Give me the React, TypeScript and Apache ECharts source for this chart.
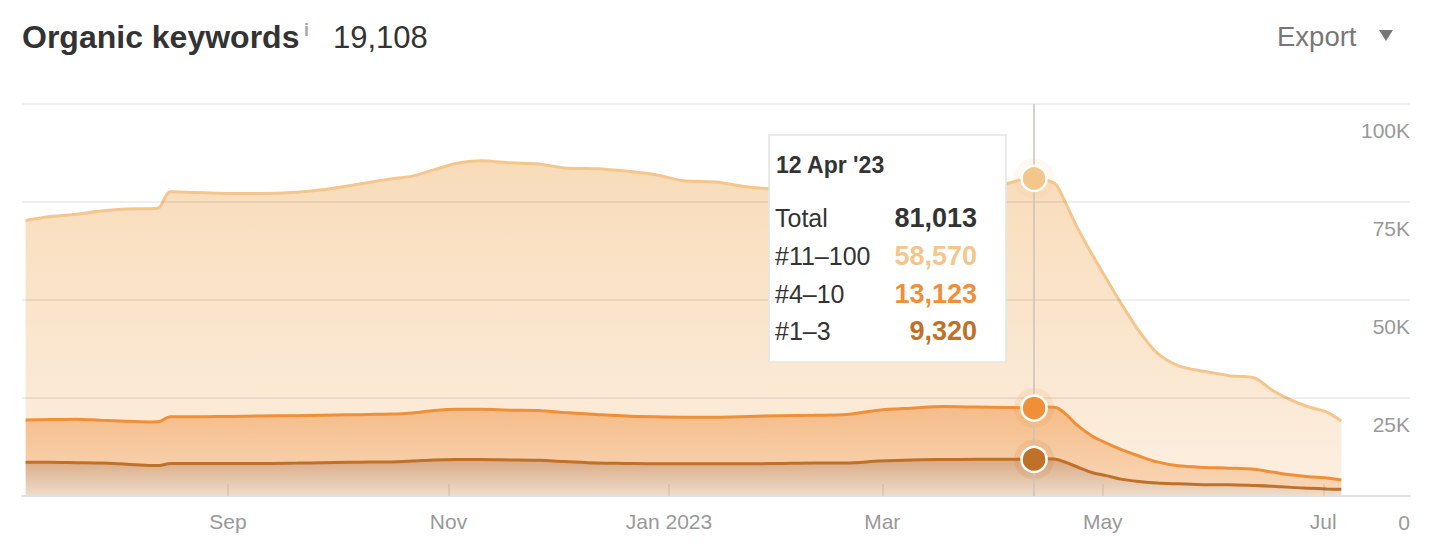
import React, { useEffect, useRef } from "react";
import * as echarts from "echarts";

// ---------- data ----------
const dates = [
  "2022-07-07", "2022-07-14", "2022-07-21", "2022-07-28", "2022-08-04", "2022-08-11", "2022-08-13",
  "2022-08-16", "2022-08-23", "2022-09-01", "2022-09-10", "2022-09-20", "2022-09-27", "2022-10-04",
  "2022-10-10", "2022-10-16", "2022-10-22", "2022-10-28", "2022-11-03", "2022-11-10", "2022-11-18",
  "2022-11-26", "2022-12-03", "2022-12-12", "2022-12-20", "2022-12-28", "2023-01-05", "2023-01-14",
  "2023-01-23", "2023-02-01", "2023-02-10", "2023-02-19", "2023-02-28", "2023-03-09", "2023-03-18",
  "2023-03-27", "2023-04-04", "2023-04-08", "2023-04-12", "2023-04-15", "2023-04-18", "2023-04-21",
  "2023-04-24", "2023-04-28", "2023-05-02", "2023-05-06", "2023-05-11", "2023-05-16", "2023-05-22",
  "2023-05-29", "2023-06-05", "2023-06-12", "2023-06-17", "2023-06-22", "2023-06-27", "2023-07-02",
  "2023-07-06",
];

const pos1to3 = [
  8600, 8600, 8500, 8400, 8100, 7800, 7800, 8300, 8300, 8300, 8300, 8400, 8500, 8600, 8700, 8700,
  8900, 9200, 9300, 9300, 9200, 9100, 8800, 8400, 8300, 8200, 8200, 8200, 8200, 8300, 8400, 8400,
  8900, 9200, 9300, 9350, 9350, 9350, 9320, 9500, 9400, 8500, 7400, 6000, 5200, 4300, 3700, 3300,
  3100, 2900, 2900, 2700, 2500, 2200, 2000, 1800, 1700,
];

const pos4to10 = [
  10800, 10900, 11100, 10900, 11000, 11100, 11200, 11900, 11900, 12000, 12100, 12100, 12100, 12100,
  12100, 12200, 12300, 12600, 12800, 12800, 12700, 12700, 12500, 12400, 12100, 12000, 11900, 11900,
  12100, 12200, 12200, 12400, 13000, 13200, 13500, 13350, 13250, 13150, 13123, 13200, 13200, 12200,
  10600, 9300, 8300, 7600, 6500, 5400, 4600, 4400, 4200, 4100, 3600, 3200, 2900, 2800, 2400,
];

const pos11to100 = [
  50900, 51800, 52300, 53400, 54100, 54400, 54600, 57400, 57200, 56900, 56800, 57000, 57500, 58400,
  59200, 60000, 60400, 61400, 62700, 63400, 63100, 62900, 62400, 62700, 62500, 61800, 60300, 60000,
  58500, 57700, 57500, 57300, 56700, 56400, 56300, 56400, 57000, 58100, 58570, 57900, 56900, 53500,
  50400, 46400, 41900, 37300, 31900, 27800, 25500, 24500, 23600, 23300, 20800, 19100, 17800, 16800,
  15008,
];

const seriesNames = ["#1–3", "#4–10", "#11–100"];
const tickDates = ["2022-09-01", "2022-11-01", "2023-01-01", "2023-03-01", "2023-05-01", "2023-07-01"];
const tickLabels = ["Sep", "Nov", "Jan 2023", "Mar", "May", "Jul"];
const yTicks = [0, 25000, 50000, 75000, 100000];
const yTickLabels = ["0", "25K", "50K", "75K", "100K"];
const axisStart = "2022-07-06";
const axisEnd = "2023-07-25";
const focusDate = "2023-04-12";
const focusLabel = "12 Apr '23";
const titleText = "Organic keywords";

// ---------- helpers ----------
const ts = (s: string) => {
  const [y, m, d] = s.split("-").map(Number);
  return new Date(y, m - 1, d).getTime();
};
const fmt = (n: number) => n.toLocaleString("en-US");

const FONT = "'Liberation Sans', Arial, Helvetica, sans-serif";
const C_TOP = "#F5C68C";
const C_MID = "#EF8F37";
const C_BOT = "#BF7029";

export default function App() {
  const ref = useRef<HTMLDivElement>(null);

  useEffect(() => {
    document.body.style.margin = "0";
    if (!ref.current) return;
    const chart = echarts.init(ref.current, undefined, { renderer: "svg" });

    const tickTs = tickDates.map(ts);
    const mk = (arr: number[]) => arr.map((v, i) => [ts(dates[i]), v]);

    const fi = dates.indexOf(focusDate);
    const fx = ts(focusDate);
    const vBot = pos1to3[fi];
    const vMid = pos4to10[fi];
    const vTop = pos11to100[fi];
    const sBot = vBot;
    const sMid = vBot + vMid;
    const sTop = vBot + vMid + vTop;
    const last = dates.length - 1;
    const currentTotal = pos1to3[last] + pos4to10[last] + pos11to100[last];

    const grad = (a: string, b: string) =>
      new echarts.graphic.LinearGradient(0, 0, 0, 1, [
        { offset: 0, color: a },
        { offset: 1, color: b },
      ]);

    const lineSeries = (name: string, arr: number[], color: string, area: any) => ({
      name,
      type: "line",
      xAxisIndex: 0,
      stack: "total",
      data: mk(arr),
      smooth: 0.3,
      showSymbol: false,
      silent: true,
      lineStyle: { color, width: 3 },
      itemStyle: { color },
      areaStyle: { color: area, opacity: 1 },
      z: 2,
    });

    chart.setOption({
      animation: false,
      textStyle: { fontFamily: FONT },
      grid: { left: 22, right: 26, top: 104, bottom: 46, containLabel: false },
      xAxis: [
        {
          type: "time",
          position: "top",
          show: false,
          min: ts(axisStart),
          max: ts(axisEnd),
          splitLine: { show: false },
        },
        {
          type: "value",
          position: "bottom",
          min: ts(axisStart),
          max: ts(axisEnd),
          z: 3,
          axisLine: { show: true, lineStyle: { color: "#E1E1E1", width: 2 } },
          axisTick: {
            show: true,
            inside: true,
            length: 12,
            customValues: tickTs,
            lineStyle: { color: "rgba(120,95,70,0.16)", width: 1.5 },
          },
          axisLabel: {
            customValues: tickTs,
            color: "#999999",
            fontSize: 21,
            margin: 15,
            fontFamily: FONT,
            formatter: (v: number) => {
              const k = tickTs.indexOf(v);
              return k >= 0 ? tickLabels[k] : "";
            },
          },
          splitLine: { show: false },
        },
      ],
      yAxis: {
        type: "value",
        position: "right",
        min: 0,
        max: 100000,
        interval: 25000,
        z: 3,
        axisLine: { show: false },
        axisTick: { show: false },
        splitLine: { show: true, lineStyle: { color: "rgba(0,0,0,0.085)", width: 1.5 } },
        axisLabel: {
          inside: true,
          margin: 0,
          align: "right",
          verticalAlign: "top",
          padding: [16, 0, 0, 0],
          color: "#999999",
          fontSize: 21,
          fontFamily: FONT,
          formatter: (v: number) => {
            const k = yTicks.indexOf(v);
            return k >= 0 ? yTickLabels[k] : "";
          },
        },
      },
      series: [
        lineSeries(seriesNames[0], pos1to3, C_BOT, grad("#DAA982", "#EEDDCC")),
        lineSeries(seriesNames[1], pos4to10, C_MID, grad("#F5BC88", "#F9D6B6")),
        lineSeries(seriesNames[2], pos11to100, C_TOP, grad("#F8DCB9", "#FCEEDF")),
        {
          type: "scatter",
          xAxisIndex: 0,
          silent: true,
          z: 4,
          symbolSize: 40,
          data: [
            { value: [fx, sTop], itemStyle: { color: C_TOP, opacity: 0.13 } },
            { value: [fx, sMid], itemStyle: { color: C_MID, opacity: 0.13 } },
            { value: [fx, sBot], itemStyle: { color: C_BOT, opacity: 0.13 } },
          ],
          markLine: {
            silent: true,
            symbol: "none",
            label: { show: false },
            lineStyle: { color: "#CBC2B9", width: 1.5, type: "solid" },
            data: [{ xAxis: fx }],
          },
        },
        {
          type: "scatter",
          xAxisIndex: 0,
          silent: true,
          z: 5,
          symbolSize: 25,
          data: [
            { value: [fx, sTop], itemStyle: { color: C_TOP } },
            { value: [fx, sMid], itemStyle: { color: C_MID } },
            { value: [fx, sBot], itemStyle: { color: C_BOT } },
          ],
          itemStyle: { borderColor: "#ffffff", borderWidth: 2.5, opacity: 1 },
        },
      ],
    });

    const px = chart.convertToPixel({ xAxisIndex: 0, yAxisIndex: 0 }, [fx, 0]) as number[];
    const bw = 237;
    const bh = 227;
    const bx = Math.round(px[0] - 28 - bw);
    const by = 135;

    const rows = [
      { label: "Total", value: sTop, color: "#333333" },
      { label: seriesNames[2], value: vTop, color: C_TOP },
      { label: seriesNames[1], value: vMid, color: C_MID },
      { label: seriesNames[0], value: vBot, color: C_BOT },
    ];
    const rowY = [83, 121, 159, 196];

    const tipEls: any[] = [
      {
        type: "rect",
        shape: { x: bx, y: by, width: bw, height: bh },
        style: { fill: "#ffffff", stroke: "#E4E4E4", lineWidth: 1.5 },
        z: 100,
      },
      {
        type: "text",
        x: bx + 7,
        y: by + 30,
        z: 101,
        style: {
          text: focusLabel,
          fill: "#333333",
          fontSize: 23,
          fontWeight: "bold",
          fontFamily: FONT,
          textVerticalAlign: "middle",
        },
      },
    ];
    rows.forEach((r, i) => {
      tipEls.push({
        type: "text",
        x: bx + 6,
        y: by + rowY[i],
        z: 101,
        style: {
          text: r.label,
          fill: "#333333",
          fontSize: 25,
          fontFamily: FONT,
          textVerticalAlign: "middle",
        },
      });
      tipEls.push({
        type: "text",
        x: bx + 208,
        y: by + rowY[i],
        z: 101,
        style: {
          text: fmt(r.value),
          fill: r.color,
          fontSize: 27,
          fontWeight: "bold",
          fontFamily: FONT,
          textAlign: "right",
          textVerticalAlign: "middle",
        },
      });
    });

    const headerEls: any[] = [
      {
        type: "text",
        x: 22,
        y: 37,
        style: {
          text: titleText,
          fill: "#333333",
          fontSize: 32,
          fontWeight: "bold",
          fontFamily: FONT,
          textVerticalAlign: "middle",
        },
      },
      {
        type: "text",
        x: 304,
        y: 30,
        style: {
          text: "i",
          fill: "#AAAAAA",
          fontSize: 18,
          fontWeight: "bold",
          fontFamily: FONT,
          textVerticalAlign: "middle",
        },
      },
      {
        type: "text",
        x: 333,
        y: 37,
        style: {
          text: fmt(currentTotal),
          fill: "#333333",
          fontSize: 31,
          fontFamily: FONT,
          textVerticalAlign: "middle",
        },
      },
      {
        type: "text",
        x: 1277,
        y: 36,
        style: {
          text: "Export",
          fill: "#777777",
          fontSize: 27.5,
          fontFamily: FONT,
          textVerticalAlign: "middle",
        },
      },
      {
        type: "polygon",
        shape: { points: [[1379, 30], [1393, 30], [1386, 41]] },
        style: { fill: "#777777" },
      },
    ];

    chart.setOption({ graphic: { elements: [...headerEls, ...tipEls] } });

    return () => chart.dispose();
  }, []);

  return <div ref={ref} style={{ width: 1436, height: 542 }} />;
}
